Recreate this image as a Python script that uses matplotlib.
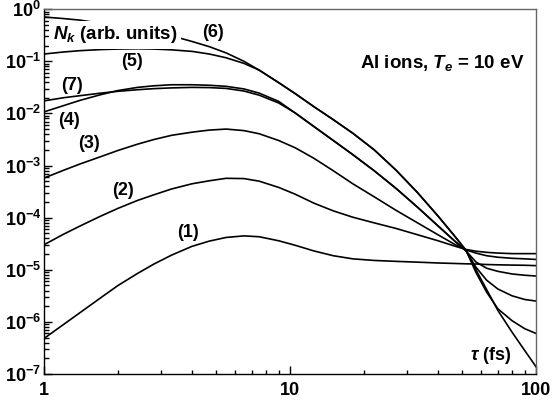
import matplotlib
matplotlib.use('Agg')
import matplotlib.pyplot as plt
from matplotlib.ticker import FixedLocator, LogLocator, NullFormatter

plt.rcParams['font.family'] = 'Liberation Sans'
plt.rcParams['font.weight'] = 'bold'
plt.rcParams['mathtext.fontset'] = 'custom'
plt.rcParams['mathtext.rm'] = 'Liberation Sans:bold'
plt.rcParams['mathtext.bf'] = 'Liberation Sans:bold'
plt.rcParams['mathtext.it'] = 'Liberation Sans:bold:italic'

# time grid (fs) and populations N_k
tau = [1, 1.2, 1.4, 1.7, 2, 2.4, 2.8, 3.3, 4, 4.7, 5.5, 6.5, 7.5, 9, 10.5,
       12.5, 15, 18, 22, 27, 33, 40, 47, 52, 57, 63, 70, 80, 90, 100]

n1 = [4.8e-7, 8.9e-7, 1.5e-6, 2.9e-6, 5.0e-6, 8.5e-6, 1.29e-5, 1.91e-5, 2.82e-5, 3.55e-5,
      4.17e-5, 4.47e-5, 4.3e-5, 3.6e-5, 2.95e-5, 2.3e-5, 1.86e-5, 1.62e-5, 1.51e-5, 1.45e-5,
      1.40e-5, 1.35e-5, 1.32e-5, 1.30e-5, 1.29e-5, 1.26e-5, 1.245e-5, 1.23e-5, 1.22e-5, 1.20e-5]
n2 = [3.02e-5, 4.8e-5, 6.9e-5, 1.07e-4, 1.51e-4, 2.14e-4, 2.75e-4, 3.55e-4, 4.47e-4, 5.1e-4,
      5.69e-4, 5.62e-4, 5.01e-4, 3.8e-4, 2.82e-4, 1.9e-4, 1.35e-4, 1.02e-4, 7.94e-5, 6.2e-5,
      4.7e-5, 3.6e-5, 2.82e-5, 2.45e-5, 2.27e-5, 2.16e-5, 2.09e-5, 2.04e-5, 2.04e-5, 2.04e-5]
n3 = [5.75e-4, 8.1e-4, 1.07e-3, 1.48e-3, 1.95e-3, 2.57e-3, 3.16e-3, 3.8e-3, 4.37e-3, 4.79e-3,
      5.01e-3, 4.68e-3, 4.07e-3, 3.02e-3, 2.19e-3, 1.38e-3, 7.94e-4, 4.47e-4, 2.51e-4, 1.38e-4,
      7.94e-5, 4.68e-5, 3.02e-5, 2.40e-5, 2.09e-5, 1.86e-5, 1.74e-5, 1.66e-5, 1.62e-5, 1.58e-5]
n4 = [1.07e-2, 1.41e-2, 1.78e-2, 2.29e-2, 2.75e-2, 3.16e-2, 3.39e-2, 3.55e-2, 3.55e-2, 3.47e-2,
      3.31e-2, 2.95e-2, 2.45e-2, 1.7e-2, 1.02e-2, 5.62e-3, 3.02e-3, 1.62e-3, 7.94e-4, 3.63e-4,
      1.585e-4, 6.92e-5, 3.47e-5, 2.29e-5, 1.12e-5, 6.31e-6, 4.27e-6, 3.16e-6, 2.69e-6, 2.51e-6]
n5 = [0.138, 0.151, 0.160, 0.168, 0.172, 0.174, 0.172, 0.166, 0.155, 0.138,
      0.117, 0.0912, 0.0676, 0.0389, 0.024, 0.0135, 7.59e-3, 4.17e-3, 2.0e-3, 8.13e-4,
      3.02e-4, 1.07e-4, 4.27e-5, 2.34e-5, 8.9e-6, 3.72e-6, 1.78e-6, 1.05e-6, 7.4e-7, 6.0e-7]
n6 = [0.708, 0.661, 0.617, 0.537, 0.479, 0.417, 0.363, 0.309, 0.240, 0.191,
      0.145, 0.100, 0.0676, 0.0389, 0.024, 0.0135, 7.59e-3, 4.17e-3, 2.0e-3, 8.13e-4,
      3.02e-4, 1.07e-4, 4.27e-5, 2.34e-5, 1.0e-5, 4.17e-6, 1.66e-6, 6.3e-7, 2.82e-7, 1.38e-7]
n7 = [1.74e-2, 2.0e-2, 2.19e-2, 2.45e-2, 2.66e-2, 2.85e-2, 2.99e-2, 3.09e-2, 3.16e-2, 3.13e-2,
      3.02e-2, 2.69e-2, 2.24e-2, 1.585e-2, 1.02e-2, 5.62e-3, 3.02e-3, 1.62e-3, 7.94e-4, 3.63e-4,
      1.585e-4, 6.92e-5, 3.47e-5, 2.29e-5, 1.41e-5, 1.07e-5, 9.33e-6, 8.3e-6, 7.85e-6, 7.59e-6]

curves = [n1, n2, n3, n4, n5, n6, n7]
curve_labels = ['(1)', '(2)', '(3)', '(4)', '(5)', '(6)', '(7)']
label_pos = [(0.293, 0.388), (0.161, 0.502), (0.0915, 0.631), (0.051, 0.694),
             (0.179, 0.856), (0.3435, 0.935), (0.057, 0.79)]

yticks = [1e-7, 1e-6, 1e-5, 1e-4, 1e-3, 1e-2, 1e-1, 1]
ytick_labels = [r'$\mathbf{10^{-7}}$', r'$\mathbf{10^{-6}}$', r'$\mathbf{10^{-5}}$', r'$\mathbf{10^{-4}}$',
                r'$\mathbf{10^{-3}}$', r'$\mathbf{10^{-2}}$', r'$\mathbf{10^{-1}}$', r'$\mathbf{10^{0}}$']
xticks = [1, 10, 100]
xtick_labels = ['1', '10', '100']

fig = plt.figure(figsize=(5.52, 4), dpi=100)
ax = fig.add_axes([0.0797, 0.065, 0.8913, 0.912])

for n in curves:
    ax.plot(tau, n, color='black', lw=1.2, zorder=2)

ax.set_xscale('log')
ax.set_yscale('log')
ax.set_xlim(1, 100)
ax.set_ylim(1e-7, 1)

ax.xaxis.set_major_locator(FixedLocator(xticks))
ax.set_xticklabels(xtick_labels, fontsize=13, fontweight='bold')
ax.xaxis.set_minor_locator(LogLocator(base=10, subs=range(2, 10), numticks=20))
ax.xaxis.set_minor_formatter(NullFormatter())
ax.yaxis.set_major_locator(FixedLocator(yticks))
ax.set_yticklabels(ytick_labels, fontsize=13)
ax.yaxis.set_minor_locator(LogLocator(base=10, subs=range(2, 10), numticks=20))
ax.yaxis.set_minor_formatter(NullFormatter())

ax.tick_params(which='both', direction='in', top=False, right=False, width=1)
ax.tick_params(which='major', length=6)
ax.tick_params(axis='x', which='minor', length=3)
ax.tick_params(axis='y', which='minor', length=3.5)
ax.tick_params(axis='x', pad=6)
ax.tick_params(axis='y', pad=2)

for s in ['top', 'right']:
    ax.spines[s].set_color('#666666')
for s in ax.spines.values():
    s.set_linewidth(1)

for lab, (x, y) in zip(curve_labels, label_pos):
    ax.text(x, y, lab, transform=ax.transAxes, ha='center', va='center',
            fontsize=13, fontweight='bold', zorder=3)

ax.text(0.018, 0.93, r'$N_k$ (arb. units)', transform=ax.transAxes, ha='left', va='center',
        fontsize=13.5, fontweight='bold', zorder=4,
        bbox=dict(facecolor='white', edgecolor='none', pad=2.5))
ax.text(0.976, 0.853, r'Al ions, $T_e$ = 10 eV', transform=ax.transAxes, ha='right', va='center',
        fontsize=13.5, fontweight='bold', zorder=4)
ax.text(0.949, 0.052, r'$\tau$ (fs)', transform=ax.transAxes, ha='right', va='center',
        fontsize=13, fontweight='bold', zorder=4)

fig.savefig('out.png', dpi=100)
